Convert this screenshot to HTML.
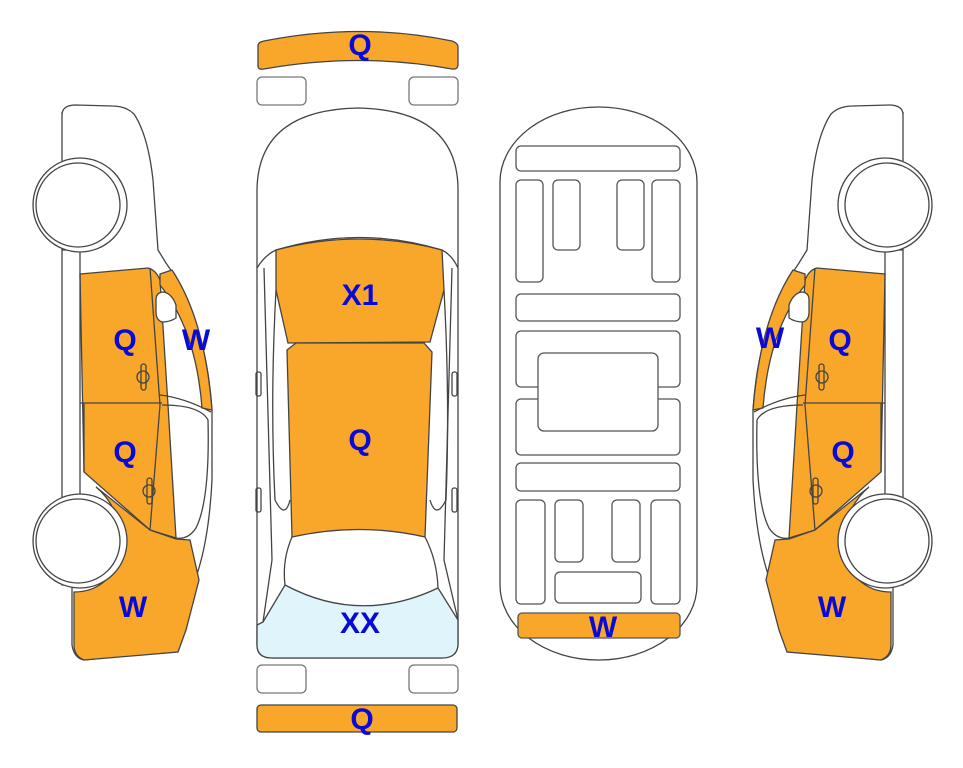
<!DOCTYPE html>
<html><head><meta charset="utf-8"><style>
html,body{margin:0;padding:0;background:#fff;width:963px;height:768px;overflow:hidden}
svg{display:block}
text{font-family:"Liberation Sans",sans-serif;font-weight:bold;fill:#0a0ad8;font-size:30px;text-anchor:middle}
</style></head><body>
<svg width="963" height="768" viewBox="0 0 963 768">
<defs>
<g id="side" stroke="#444" stroke-width="1.3" fill="none">
  <path d="M62,115 Q62,105 76,105 L112,106 Q126,106 134,114 Q148,135 153,180 L158,250 L166,263 Q206,320 212,410 L212,480 Q208,560 186,600 L179,648 Q176,654 166,652 L84,660 Q74,658 72,645 L72,585 L62,585 L62,112 Z" fill="#fff"/>
  <path d="M80,274 L148,268 Q156,270 160,280 L168,405 L176,538 L150,530 L84,472 Z" fill="#f9a72b"/>
  <path d="M96,487 L150,530 L176,539 L190,540 L199,580 L186,630 L178,652 L84,660 Q74,656 74,645 L74,592 Q112,592 125,545 Q118,505 96,487 Z" fill="#f9a72b"/>
  <path d="M160,274 L172,270 Q205,320 212,410 L202,408 Q196,330 160,285 Z" fill="#f9a72b"/>
  <path d="M156,300 Q156,292 164,292 Q172,294 176,305 L176,318 Q170,322 162,322 Q156,320 156,312 Z" fill="#fff"/>
  <path d="M80,403 L162,403"/>
  <path d="M150,268 L160,405 L150,530"/>
  <path d="M160,395 Q185,398 211,412"/>
  <path d="M162,405 Q200,405 208,420 Q210,500 196,528 Q188,540 176,538"/>
  <path d="M80,250 L80,500 M62,250 L80,250"/>
  <path d="M84,472 L84,403"/>
  <rect x="141" y="364" width="5" height="26" rx="2.5"/>
  <ellipse cx="143" cy="377" rx="6" ry="6"/>
  <rect x="147" y="478" width="5" height="26" rx="2.5"/>
  <ellipse cx="149" cy="491" rx="6" ry="6"/>
  <circle cx="80" cy="205" r="47" fill="#fff"/>
  <circle cx="78" cy="205" r="42" fill="#fff"/>
  <circle cx="80" cy="541" r="47" fill="#fff"/>
  <circle cx="78" cy="541" r="42" fill="#fff"/>
</g>
</defs>
<use href="#side"/>
<use href="#side" transform="translate(965,0) scale(-1,1)"/>
<text x="125" y="350">Q</text><text x="196" y="350">W</text>
<text x="125" y="462">Q</text><text x="133" y="617">W</text>
<text x="840" y="350">Q</text><text x="770" y="348">W</text>
<text x="843" y="462">Q</text><text x="832" y="617">W</text>

<g stroke="#444" stroke-width="1.3" fill="none">
  <path d="M258,46 Q258,42 264,41 Q360,22 452,41 Q458,43 458,47 L458,64 Q458,70 452,69 Q360,52 264,69 Q258,70 258,66 Z" fill="#f9a72b"/>
  <rect x="257" y="77" width="49" height="28" rx="5" stroke="#777"/>
  <rect x="409" y="77" width="49" height="28" rx="5" stroke="#777"/>
  <rect x="257" y="665" width="49" height="28" rx="5" stroke="#777"/>
  <rect x="409" y="665" width="49" height="28" rx="5" stroke="#777"/>
  <rect x="257" y="705" width="200" height="27" rx="4" fill="#f9a72b"/>
  <path d="M257,645 L257,190 Q258,110 358,108 Q458,110 458,190 L458,645 Q457,658 442,658 L272,658 Q257,658 257,645 Z" fill="#fff"/>
  <path d="M263,622 L285,585 Q360,625 438,588 L458,620 L458,645 Q457,658 442,658 L272,658 Q257,658 257,645 L257,625 Z" fill="#dff5fb"/>
  <path d="M257,268 Q265,255 276,250 Q360,225 442,250 Q452,255 458,268"/>
  <path d="M276,250 L276,290 L288,343 L430,342 L444,290 L442,250 Q360,228 276,250 Z" fill="#f9a72b"/>
  <path d="M287,350 L296,343 L424,343 L432,352 L425,537 Q360,522 292,537 Z" fill="#f9a72b"/>
  <path d="M292,537 Q282,560 285,585 M425,537 Q437,560 438,588"/>
  <path d="M264,268 Q268,420 272,560 L263,622 M452,268 Q448,420 444,560 L458,620"/>
  <path d="M276,290 Q270,400 275,500 Q285,520 290,500 M444,290 Q450,400 446,500 Q436,520 430,500"/>
  <rect x="256" y="372" width="5" height="24" rx="2"/><rect x="452" y="372" width="5" height="24" rx="2"/>
  <rect x="256" y="488" width="5" height="24" rx="2"/><rect x="452" y="488" width="5" height="24" rx="2"/>
</g>
<text x="360" y="55">Q</text>
<text x="360" y="305">X1</text>
<text x="360" y="450">Q</text>
<text x="360" y="633">XX</text>
<text x="362" y="729">Q</text>

<g stroke="#555" stroke-width="1.3" fill="#fff">
  <rect x="500" y="107" width="197" height="553" rx="98" ry="75" stroke="#444"/>
  <rect x="516" y="146" width="164" height="25" rx="5"/>
  <rect x="516" y="180" width="27" height="102" rx="5"/>
  <rect x="553" y="180" width="27" height="70" rx="5"/>
  <rect x="617" y="180" width="27" height="70" rx="5"/>
  <rect x="652" y="180" width="28" height="102" rx="5"/>
  <rect x="516" y="294" width="164" height="27" rx="5"/>
  <rect x="516" y="331" width="164" height="56" rx="5"/>
  <rect x="516" y="399" width="164" height="56" rx="5"/>
  <rect x="538" y="353" width="120" height="78" rx="6"/>
  <rect x="516" y="463" width="164" height="28" rx="5"/>
  <rect x="516" y="500" width="29" height="104" rx="5"/>
  <rect x="555" y="500" width="28" height="62" rx="5"/>
  <rect x="612" y="500" width="28" height="62" rx="5"/>
  <rect x="651" y="500" width="29" height="104" rx="5"/>
  <rect x="555" y="572" width="86" height="31" rx="5"/>
  <rect x="518" y="613" width="162" height="25" rx="4" fill="#f9a72b" stroke="#555"/>
</g>
<text x="603" y="637">W</text>
</svg>
</body></html>
